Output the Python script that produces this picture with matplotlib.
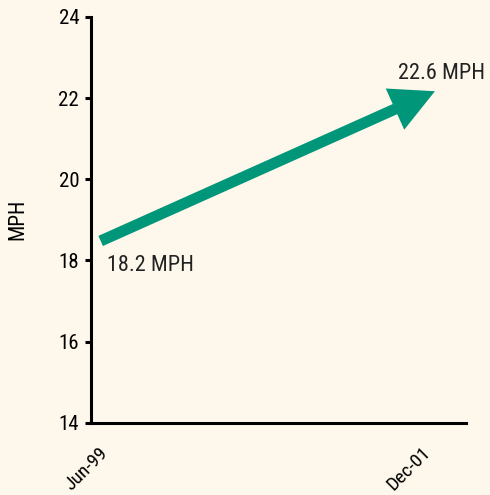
import matplotlib
matplotlib.use("Agg")
import matplotlib.pyplot as plt
from matplotlib.patches import FancyArrowPatch

# data
dates = ["Jun-99", "Dec-01"]
speed = [18.2, 22.6]                 # labelled values
arrow_x = [-0.035, 1.003]            # arrow ends as drawn in the picture
arrow_y = [18.48, 22.17]
yticks = [14, 16, 18, 20, 22, 24]

bg = "#fef8ec"
teal = "#00967a"
plt.rcParams["font.family"] = ["Roboto Condensed", "DejaVu Sans"]
plt.rcParams["font.stretch"] = "condensed"

fig = plt.figure(figsize=(4.9, 4.95), dpi=100, facecolor=bg)
ax = fig.add_axes([0.1857, 0.146, 0.765, 0.8197], facecolor=bg)

ax.set_xlim(-0.065, 1.099)
ax.set_ylim(14, 24)
ax.set_yticks(yticks)
ax.set_xticks([0, 1])
ax.set_xticklabels(dates, rotation=45, ha="right", va="top")

for s in ["top", "right"]:
    ax.spines[s].set_visible(False)
for s in ["left", "bottom"]:
    ax.spines[s].set_linewidth(2.2)
    ax.spines[s].set_color("black")

ax.tick_params(axis="y", length=4.5, width=2.2, labelsize=15, pad=4)
ax.tick_params(axis="x", length=0, labelsize=14, pad=15)
ax.set_ylabel("MPH", fontsize=15.5, va="center")
ax.yaxis.set_label_coords(-0.196, 0.5)

arr = FancyArrowPatch((arrow_x[0], arrow_y[0]), (arrow_x[1], arrow_y[1]),
                      arrowstyle="simple,head_length=31.5,head_width=32.5,tail_width=8",
                      mutation_scale=1, color=teal, lw=0,
                      shrinkA=0, shrinkB=0, zorder=3)
ax.add_patch(arr)

ax.text(-0.016, 17.74, "%.1f MPH" % speed[0], fontsize=16, va="baseline", ha="left", color="#222222")
ax.text(0.888, 22.48, "%.1f MPH" % speed[1], fontsize=16, va="baseline", ha="left", color="#222222")

fig.savefig("out.png", dpi=100, facecolor=bg)
